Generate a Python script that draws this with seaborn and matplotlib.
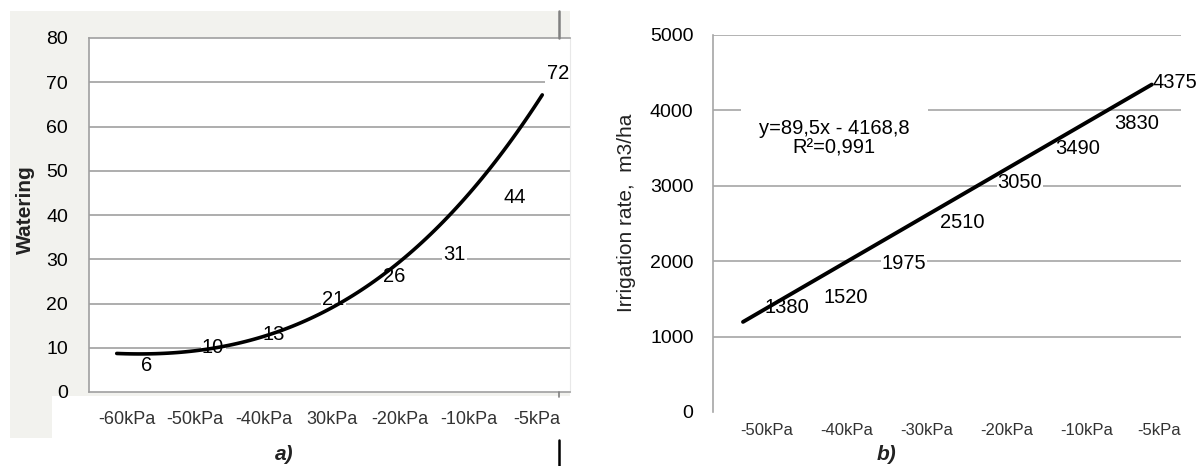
import numpy as np
import pandas as pd
import seaborn as sns
import matplotlib.pyplot as plt
from matplotlib.patches import Polygon
from matplotlib.lines import Line2D

# data, chart a)
a_ticks = ['-60kPa', '-50kPa', '-40kPa', '30kPa', '-20kPa', '-10kPa', '-5kPa']
a_values = [6, 10, 13, 21, 26, 31, 44, 72]
a_trend_x = [-0.15, 0.28, 0.73, 1.26, 2.15, 3.02, 3.78, 4.61, 5.18, 6.08]
a_trend_y = [8.8, 8.4, 8.8, 10.2, 13.3, 19.7, 26.1, 37.3, 49.5, 66.7]

# data, chart b)
b_ticks = ['-50kPa', '-40kPa', '-30kPa', '-20kPa', '-10kPa', '-5kPa']
b_values = [1380, 1520, 1975, 2510, 3050, 3490, 3830, 4375]
b_trend_y = [1195, 4343]
b_equation = 'y=89,5x - 4168,8\nR²=0,991'

# layout (label positions along x, in axis units)
a_lbl_x = [0.29, 1.26, 2.15, 3.02, 3.91, 4.79, 5.67, 6.31]
b_tick_pos = [0, 1, 2, 3, 4, 4.9]
b_lbl_x = [0.25, 0.99, 1.71, 2.44, 3.16, 3.88, 4.62, 5.1]
b_trend_x = [-0.3, 4.81]

sns.set_style("white")
plt.rcParams['font.family'] = ['Liberation Sans', 'DejaVu Sans']
plt.rcParams['text.color'] = 'black'

W, H = 1201, 466
fig = plt.figure(figsize=(W / 100, H / 100), dpi=100)


def fx(px):
    return px / W


def fy(py):
    return 1 - py / H


# grey panel behind chart a)
bg = Polygon([(fx(10), fy(11)), (fx(570), fy(11)), (fx(570), fy(396)),
              (fx(52), fy(396)), (fx(52), fy(438)), (fx(10), fy(438))],
             closed=True, transform=fig.transFigure, facecolor='#f2f2ee',
             edgecolor='none', zorder=-10)
fig.add_artist(bg)
fig.add_artist(Line2D([fx(559), fx(559)], [fy(11), fy(38)], color='#808080', lw=1.8))
fig.add_artist(Line2D([fx(559), fx(559)], [fy(392), fy(397)], color='#808080', lw=1.2))
fig.add_artist(Line2D([fx(559), fx(559)], [fy(440), fy(466)], color='black', lw=1.8))

# ---- chart a)
ax1 = fig.add_axes([fx(89), fy(392), fx(570 - 89), (392 - 38) / H])
ax1.set_facecolor('white')
ax1.set_xlim(-0.556, 6.486)
ax1.set_ylim(0, 80)
ax1.set_yticks(range(0, 90, 10))
ax1.set_xticks(range(len(a_ticks)))
ax1.set_xticklabels(a_ticks)
for y in range(10, 80, 10):
    ax1.axhline(y, color='#a0a0a0', lw=1.2, zorder=1)
sns.regplot(x=a_trend_x, y=a_trend_y, order=3, ci=None, scatter=False,
            truncate=True, color='black', line_kws={'lw': 2.6, 'zorder': 3}, ax=ax1)
for x, v in zip(a_lbl_x, a_values):
    ax1.text(x, v, str(v), ha='center', va='center', fontsize=14.5, zorder=2,
             clip_on=False, color='black',
             bbox=dict(facecolor='white', edgecolor='none', pad=1.0))
for s in ['top', 'left', 'bottom']:
    ax1.spines[s].set_color('#a0a0a0')
    ax1.spines[s].set_linewidth(1.2)
ax1.spines['right'].set_color('#e8e8e8')
ax1.tick_params(axis='y', length=0, pad=15, labelsize=14, labelcolor='black')
ax1.tick_params(axis='x', length=0, pad=14, labelsize=13, labelcolor='#333333')
ax1.set_xlabel('')
ax1.set_ylabel('')
fig.text(fx(25), fy(210), 'Watering', rotation=90, ha='center', va='center',
         fontsize=15, fontweight='bold', color='#222222')
fig.text(fx(284), fy(455), 'a)', ha='center', va='center', fontsize=15,
         fontweight='bold', fontstyle='italic', color='#222222')

# ---- chart b)
ax2 = fig.add_axes([fx(713), fy(412), fx(1181 - 713), (412 - 35) / H])
ax2.set_xlim(-0.675, 5.175)
ax2.set_ylim(0, 5000)
ax2.set_yticks(range(0, 6000, 1000))
ax2.set_xticks(b_tick_pos)
ax2.set_xticklabels(b_ticks)
for y in range(1000, 6000, 1000):
    ax2.axhline(y, color='#a6a6a6', lw=1.2, zorder=1)
sns.lineplot(x=b_trend_x, y=b_trend_y, color='black', lw=2.8, zorder=3, ax=ax2)
for x, v in zip(b_lbl_x, b_values):
    ax2.text(x, v, str(v), ha='center', va='center', fontsize=14.5, zorder=2,
             clip_on=False, color='black',
             bbox=dict(facecolor='white', edgecolor='none', pad=0.5))
ax2.text(0.84, 3634, b_equation, ha='center', va='center', fontsize=14.5,
         multialignment='center', linespacing=1.05, zorder=4, color='black',
         bbox=dict(facecolor='white', edgecolor='none', boxstyle='square,pad=0.9'))
for s in ['top', 'right', 'bottom']:
    ax2.spines[s].set_visible(False)
ax2.spines['left'].set_color('#a6a6a6')
ax2.spines['left'].set_linewidth(1.2)
ax2.tick_params(axis='y', length=0, pad=14, labelsize=14, labelcolor='black')
ax2.tick_params(axis='x', length=0, pad=8, labelsize=12, labelcolor='#333333')
ax2.set_xlabel('')
ax2.set_ylabel('')
fig.text(fx(627), fy(213), 'Irrigation rate,  m3/ha', rotation=90, ha='center',
         va='center', fontsize=15, color='#222222')
fig.text(fx(887), fy(455), 'b)', ha='center', va='center', fontsize=15,
         fontweight='bold', fontstyle='italic', color='#222222')

fig.savefig('out.png', dpi=100)
